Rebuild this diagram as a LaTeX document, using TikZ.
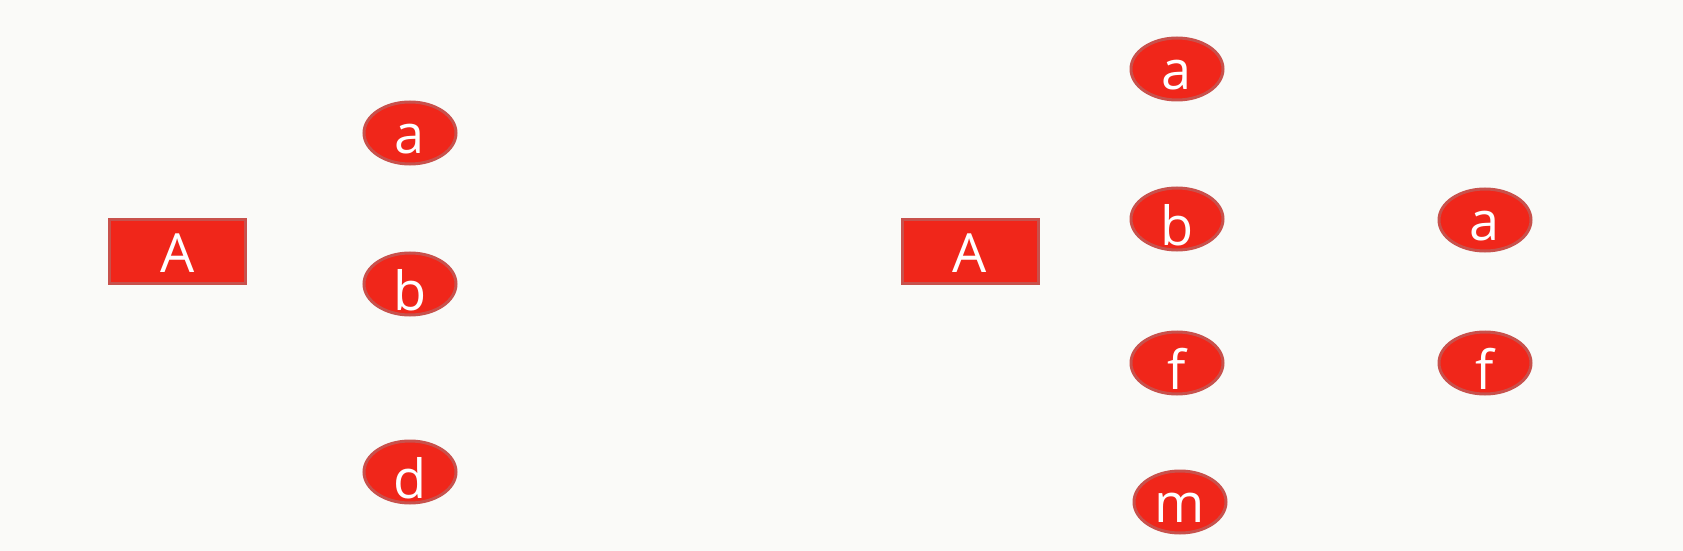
\documentclass[tikz,border=0pt]{standalone}
\usepackage{fontspec}
\setmainfont{Open Sans}
\usetikzlibrary{shapes.geometric}
\definecolor{bg}{HTML}{FAFAF8}
\definecolor{redfill}{HTML}{F0261A}
\definecolor{redline}{HTML}{C8514C}
\tikzset{
  box/.style={draw=redline, fill=redfill, line width=1.5pt, minimum width=68pt, minimum height=32pt, inner sep=0pt},
  oval/.style={draw=redline, fill=redfill, line width=1.5pt, ellipse, minimum width=46pt, minimum height=31pt, inner sep=0pt},
  lbl/.style={text=white, inner sep=0pt, font=\fontsize{27}{27}\selectfont},
}
\begin{document}
\begin{tikzpicture}[x=0.5pt,y=-0.5pt]
\fill[bg] (0,0) rectangle (1683,551);
\useasboundingbox (0,0) rectangle (1683,551);
\node[box] (A1) at (177.5,251.5) {};
\node[box] (A2) at (970,251.5) {};
\node[oval] (a1) at (410,133) {};
\node[oval] (b1) at (410,284) {};
\node[oval] (d1) at (410,472) {};
\node[oval] (a2) at (1177,69) {};
\node[oval] (b2) at (1177,219) {};
\node[oval] (f2) at (1177,363) {};
\node[oval] (m2) at (1180,502) {};
\node[oval] (a3) at (1485,220) {};
\node[oval] (f3) at (1485,363) {};
\foreach \n in {A1,A2}
  \node[lbl] at ([yshift=-1pt]\n.center) {A};
\foreach \n/\t in {a1/a,b1/b,d1/d,a2/a,b2/b,f2/f,m2/m,a3/a,f3/f}
  \node[lbl] at ([yshift=-3pt]\n.center) {\t};
\end{tikzpicture}
\end{document}
